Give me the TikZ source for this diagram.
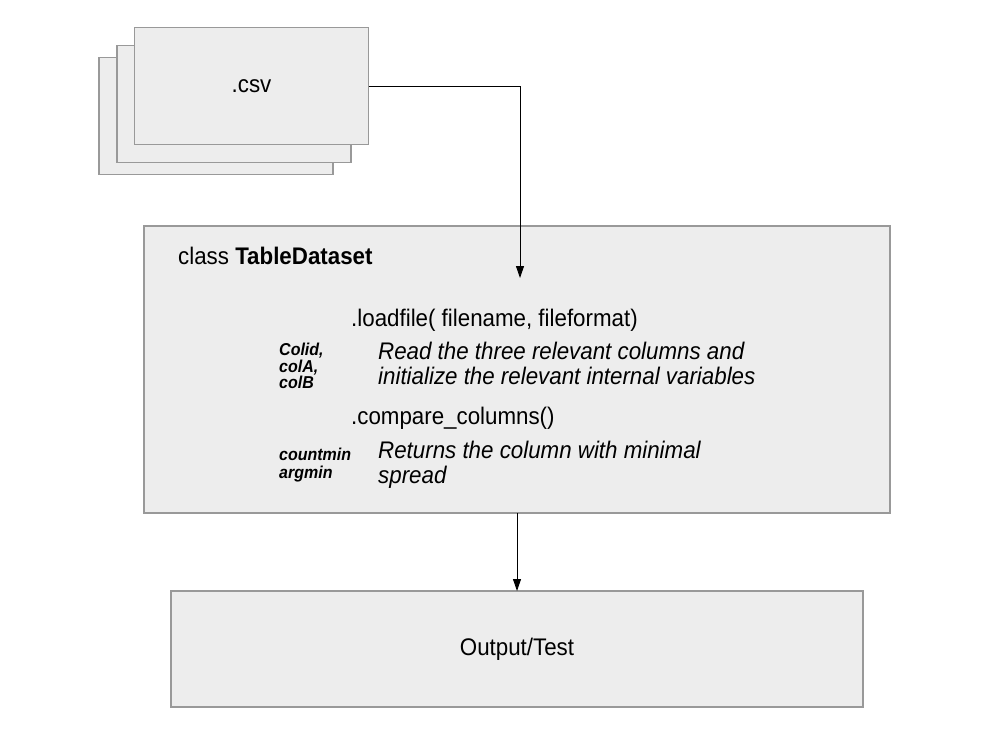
\documentclass[tikz,border=0pt]{standalone}
\usepackage{fontspec}
\setmainfont[FakeStretch=0.93]{Liberation Sans}
\usetikzlibrary{arrows.meta}
\begin{document}
\begin{tikzpicture}[x=1pt,y=-1pt,
  boxstyle/.style={draw=black!40,fill=black!7,line width=1.3pt,inner sep=0pt,outer sep=0pt},
  conn/.style={draw=black,line width=0.9pt,-{Triangle[length=12pt,width=8pt]}},
  big/.style={font=\fontsize{24}{27}\selectfont,inner sep=0pt,anchor=base west},
  bigit/.style={font=\fontsize{24}{27}\selectfont\itshape,inner sep=0pt,anchor=base west},
  small/.style={font=\fontsize{17.2}{18}\selectfont\bfseries\itshape,inner sep=0pt,anchor=base west}]
\useasboundingbox (0,0) rectangle (992,743);
% csv stack
\node[boxstyle,minimum width=234pt,minimum height=117pt] (csv3) at (216,116) {};
\node[boxstyle,minimum width=234pt,minimum height=117pt] (csv2) at (234,104) {};
\node[boxstyle,minimum width=234pt,minimum height=117pt,font=\fontsize{24}{27}\selectfont] (csv1) at (251.5,86) {.csv};
% class box
\node[boxstyle,minimum width=746pt,minimum height=287pt] (cls) at (517,369.5) {};
\node[big] (title) at (178,264) {class \textbf{TableDataset}};
\node[big] (load) at (351,326) {.loadfile( filename, fileformat)};
\node[small] (colid) at (279,355) {Colid,};
\node[small] (cola) at (279,372) {colA,};
\node[small] (colb) at (279,388) {colB};
\node[bigit] (read1) at (378,359) {Read the three relevant columns and};
\node[bigit] (read2) at (378,384) {initialize the relevant internal variables};
\node[big] (cmp) at (351,424) {.compare\_columns()};
\node[small] (cnt) at (279,460) {countmin};
\node[small] (amin) at (279,478) {argmin};
\node[bigit] (ret1) at (378,458) {Returns the column with minimal};
\node[bigit] (ret2) at (378,483) {spread};
% output box
\node[boxstyle,minimum width=692pt,minimum height=116pt,font=\fontsize{24}{27}\selectfont] (out) at (517,649) {Output/Test};
% connectors
\coordinate (tip) at (520,278);
\draw[conn] (csv1.east) -| (tip);
\draw[conn] (cls.south) -- (out.north);
\end{tikzpicture}
\end{document}
